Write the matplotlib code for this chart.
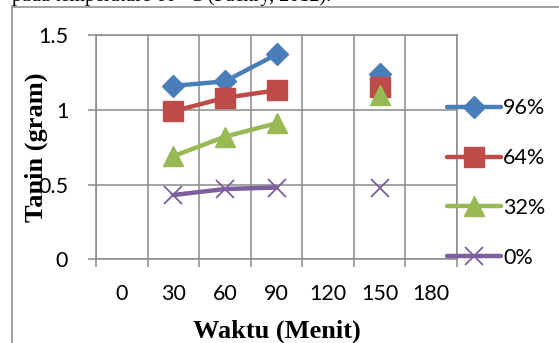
import matplotlib
matplotlib.use("Agg")
import matplotlib.pyplot as plt
import numpy as np

# data (tanin in gram vs waktu in minutes); None = no measurement
waktu = ["0", "30", "60", "90", "120", "150", "180"]
s96 = [None, 1.16, 1.19, 1.37, None, 1.24, None]
s64 = [None, 0.99, 1.08, 1.13, None, 1.15, None]
s32 = [None, 0.69, 0.82, 0.91, None, 1.10, None]
s0 = [None, 0.43, 0.47, 0.48, None, 0.48, None]
labels = ["96%", "64%", "32%", "0%"]

BLUE = "#4A7EBB"
RED = "#BE4B48"
GREEN = "#98B954"
PURPLE = "#7D5FA0"
GRID = "#8A8A8A"
TICKFONT = "Lato"
SERIF = "Liberation Serif"

fig = plt.figure(figsize=(5.59, 3.43), dpi=100)
ax = fig.add_axes([96 / 559, 1 - 259.3 / 343, 361 / 559, 224.3 / 343])

x = np.arange(len(waktu))
styles = [
    (s96, BLUE, "D", 11, 1),
    (s64, RED, "s", 14, 1),
    (s32, GREEN, "^", 14, 1),
    (s0, PURPLE, "x", 13, 1.3),
]
for (vals, col, mk, ms, mew), lab in zip(styles, labels):
    y = np.array([np.nan if v is None else v for v in vals])
    ax.plot(x, y, color=col, lw=3.2, marker=mk, ms=ms, mew=mew,
            mec=col, mfc=col, label=lab, solid_capstyle="round", zorder=3)

ax.set_xlim(-0.5, len(waktu) - 0.5)
ax.set_ylim(0, 1.5)
ax.set_yticks([0, 0.5, 1, 1.5])
ax.set_yticklabels(["0", "0.5", "1", "1.5"])
ax.set_xticks(x)
ax.set_xticklabels(waktu)
ax.set_xticks(np.arange(-0.5, len(waktu)), minor=True)
ax.tick_params(axis="x", which="major", length=0, pad=18)
ax.tick_params(axis="x", which="minor", length=6, width=1.1, color=GRID, direction="out")
ax.tick_params(axis="y", length=6, width=1.1, color=GRID, pad=14)
for t in ax.get_xticklabels() + ax.get_yticklabels():
    t.set_fontfamily(TICKFONT)
    t.set_fontsize(15.5)

ax.grid(True, axis="y", which="major", color=GRID, lw=1.1)
ax.grid(True, axis="x", which="minor", color=GRID, lw=1.1)
for sp in ax.spines.values():
    sp.set_color(GRID)
    sp.set_linewidth(1.1)
ax.set_axisbelow(True)

ax.set_xlabel("Waktu (Menit)", fontfamily=SERIF, fontweight="bold", fontsize=19, labelpad=11)
ax.set_ylabel("Tanin (gram)", fontfamily=SERIF, fontweight="bold", fontsize=19, labelpad=-7)

leg = ax.legend(loc="center left", bbox_to_anchor=(447 / 559, 1 - 183 / 343),
                bbox_transform=fig.transFigure, frameon=False,
                prop={"family": TICKFONT, "size": 15.5}, handlelength=2.5,
                handletextpad=0.1, labelspacing=1.38, borderaxespad=0, borderpad=0)
for h in leg.legend_handles:
    h.set_clip_on(False)

# outer chart frame (left and top edges visible)
fig.add_artist(plt.Line2D([12 / 559, 12 / 559], [0, 1 - 6.7 / 343], color="#9A9A9A", lw=1.3))
fig.add_artist(plt.Line2D([12 / 559, 1], [1 - 6.7 / 343, 1 - 6.7 / 343], color="#9A9A9A", lw=1.3))

# caption from the page above the chart, cut at the top
fig.text(12 / 559, 1 - 0.5 / 343, "pada temperature 60 \u00b0C (Fachry, 2012).",
         fontfamily=SERIF, fontsize=14.5, va="baseline", ha="left")

fig.savefig("out.png", dpi=100, facecolor="white")
